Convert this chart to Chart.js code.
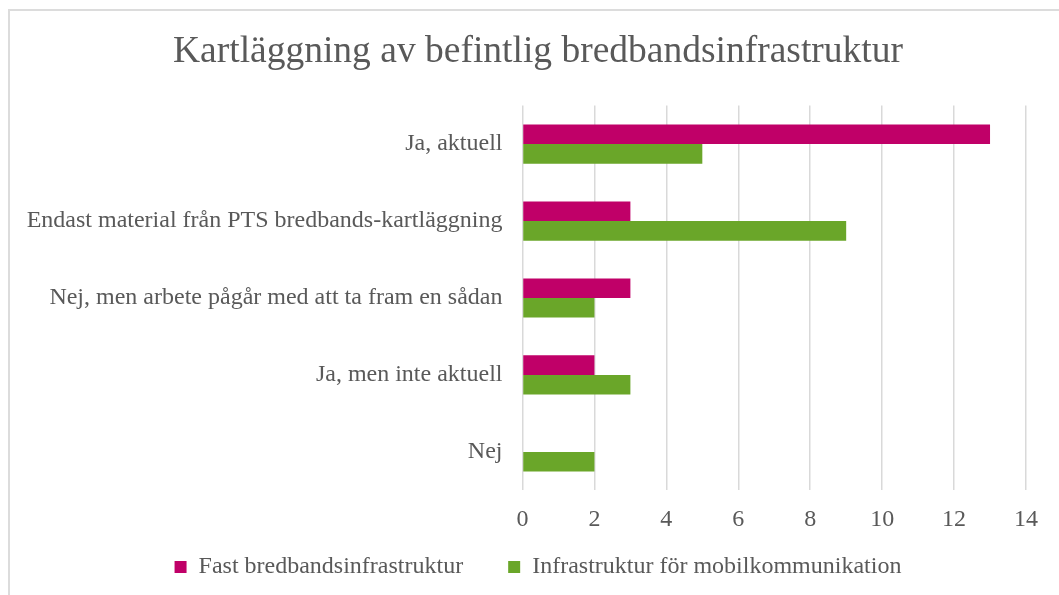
<!DOCTYPE html>
<html>
<head>
<meta charset="utf-8">
<script src="https://cdn.jsdelivr.net/npm/chart.js@4"></script>
<style>
  html, body { margin: 0; padding: 0; width: 1059px; height: 595px; overflow: hidden; background: #fff; }
  #frame { position: absolute; left: 8px; top: 9px; width: 1080px; height: 620px; border: 2px solid #dcdcdc; box-sizing: border-box; }
  #wrap { position: absolute; left: 8px; top: 0; width: 1060px; height: 595px; }
</style>
</head>
<body>
<div id="frame"></div>
<div id="wrap"><canvas id="chart"></canvas></div>
<script>
const categories = [
  'Ja, aktuell',
  'Endast material från PTS bredbands-kartläggning',
  'Nej, men arbete pågår med att ta fram en sådan',
  'Ja, men inte aktuell',
  'Nej'
];
const fastValues = [13, 3, 3, 2, 0];
const mobilValues = [5, 9, 2, 3, 2];
const xMin = 0, xMax = 14, xStep = 2;

const textColor = '#595959';
const fontFamily = '"Liberation Serif", "Times New Roman", serif';

const canvas = document.getElementById('chart');
canvas.width = 1060;
canvas.height = 595;

new Chart(canvas, {
  type: 'bar',
  data: {
    labels: categories,
    datasets: [
      { label: 'Fast bredbandsinfrastruktur', data: fastValues, backgroundColor: '#c00068', yAxisID: 'y' },
      { label: 'Infrastruktur för mobilkommunikation', data: mobilValues, backgroundColor: '#6aa629', yAxisID: 'y' }
    ]
  },
  options: {
    indexAxis: 'y',
    responsive: false,
    animation: false,
    datasets: { bar: { categoryPercentage: 0.51, barPercentage: 1 } },
    layout: { padding: { top: 10, right: 0, bottom: 6, left: 0 } },
    plugins: {
      title: {
        display: true,
        text: 'Kartläggning av befintlig bredbandsinfrastruktur',
        color: textColor,
        font: { family: fontFamily, size: 37.5, weight: 'normal' },
        padding: { top: 20, bottom: 30.6 }
      },
      legend: {
        position: 'bottom',
        labels: {
          color: textColor,
          font: { family: fontFamily, size: 24 },
          boxWidth: 12,
          boxHeight: 12,
          padding: 45
        }
      },
      tooltip: { enabled: false }
    },
    scales: {
      x: {
        min: xMin,
        max: xMax,
        afterFit: (scale) => { scale.height = 19.6; },
        grid: { color: '#d9d9d9', lineWidth: 1.5, drawTicks: false },
        border: { display: false },
        ticks: { stepSize: xStep, mirror: true, color: textColor, font: { family: fontFamily, size: 24 }, padding: -44 }
      },
      y: {
        afterFit: (scale) => { scale.width = 514.5; },
        grid: { display: false },
        border: { display: false },
        ticks: { color: textColor, font: { family: fontFamily, size: 24 }, padding: 12 }
      },
      yRight: {
        type: 'linear',
        axis: 'y',
        position: 'right',
        afterFit: (scale) => { scale.width = 42; },
        grid: { display: false },
        border: { display: false },
        ticks: { display: false }
      }
    }
  }
});
</script>
</body>
</html>
